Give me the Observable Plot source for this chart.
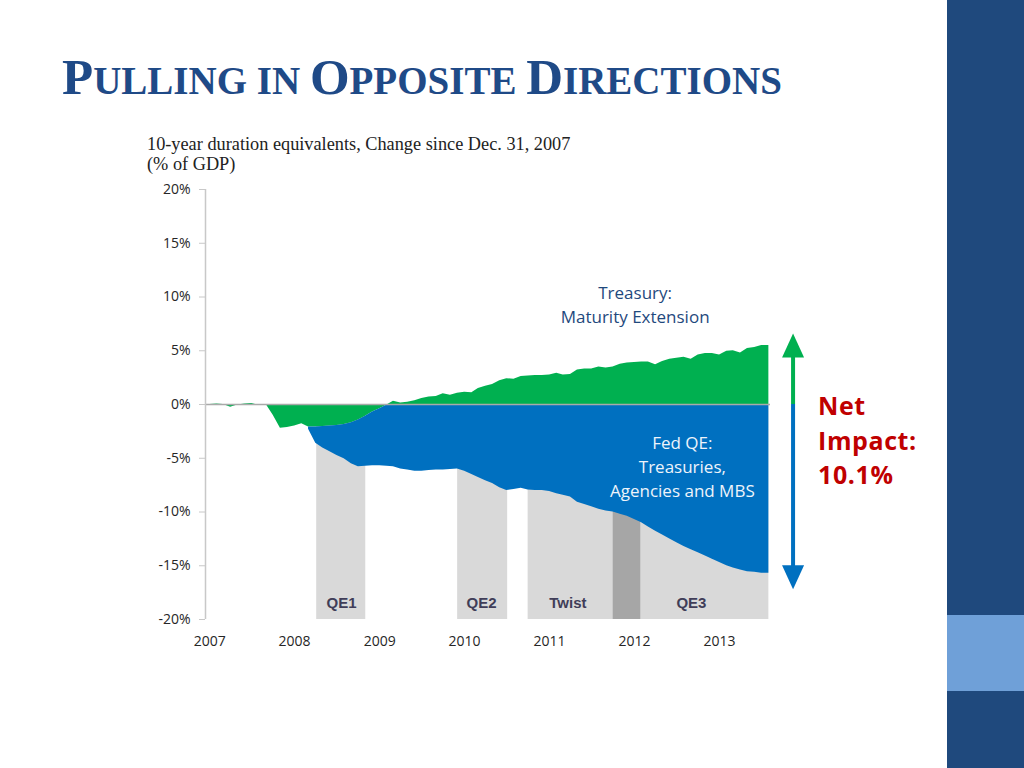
<!DOCTYPE html>
<html><head><meta charset="utf-8">
<script src="https://cdn.jsdelivr.net/npm/d3@7"></script>
<script src="https://cdn.jsdelivr.net/npm/@observablehq/plot@0.6"></script>
<style>
html,body{margin:0;padding:0;background:#fff;width:1024px;height:768px;overflow:hidden;}
#page{position:relative;width:1024px;height:768px;}
#title{position:absolute;left:62px;top:47px;line-height:60px;font-family:"Liberation Serif","Times New Roman",serif;font-weight:bold;color:#1F4A87;font-size:39px;white-space:nowrap;}
#title .b{font-size:51px}
#sub{position:absolute;left:147px;top:134px;font-family:"Liberation Serif",serif;font-size:18.3px;line-height:20px;color:#222;white-space:nowrap}
#chart{position:absolute;left:0;top:0}
#net{position:absolute;left:818px;top:388px;font-family:"Open Sans",sans-serif;font-weight:bold;font-size:25px;line-height:34.5px;letter-spacing:0.6px;color:#C00000}
#side{position:absolute;left:947px;top:0;width:77px;height:768px;background:#1F497D}
#side2{position:absolute;left:947px;top:615px;width:77px;height:76px;background:#6FA0D8}
</style></head>
<body><div id="page">
<div id="chart"></div>
<div id="title"><span class="b">P</span>ULLING IN <span class="b">O</span>PPOSITE <span class="b">D</span>IRECTIONS</div>
<div id="sub">10-year duration equivalents, Change since Dec. 31, 2007<br>(% of GDP)</div>
<div id="net">Net<br>Impact:<br>10.1%</div>
<div id="side"></div><div id="side2"></div>
</div>
<script>
const seriesNames = ["Treasury: Maturity Extension", "Fed QE: Treasuries, Agencies and MBS"];
// monthly, Jan 2007 .. Aug 2013 (% of GDP)
const treasury = [0, 0.05, 0, -0.25, -0.05, 0.05, 0.1, -0.1, 0, -1.0,
  -2.2, -2.15, -2.0, -1.8, -2.1, -2.1, -2.05, -2.0, -1.95, -1.85,
  -1.7, -1.45, -1.1, -0.7, -0.4, -0.05, 0.3, 0.15, 0.2, 0.35,
  0.55, 0.7, 0.75, 1.0, 0.85, 1.05, 1.15, 1.1, 1.5, 1.7,
  1.85, 2.2, 2.4, 2.35, 2.6, 2.65, 2.7, 2.7, 2.75, 2.9,
  2.75, 2.8, 3.2, 3.3, 3.3, 3.5, 3.4, 3.5, 3.75, 3.85,
  3.9, 3.95, 3.95, 3.7, 4.0, 4.2, 4.3, 4.4, 4.2, 4.6,
  4.75, 4.75, 4.6, 4.95, 5.0, 4.8, 5.2, 5.3, 5.5, 5.5];
const fedQE = [null, null, null, null, null, null, null, null, null, null,
  null, null, null, null, -0.2, -1.5, -2.0, -2.4, -2.8, -3.2,
  -3.8, -4.35, -4.65, -5.0, -5.3, -5.7, -5.8, -6.0, -6.1, -6.2,
  -6.2, -6.15, -6.1, -6.1, -6.05, -6.0, -6.2, -6.5, -6.8, -7.1,
  -7.35, -7.75, -8.0, -7.9, -7.8, -7.95, -8.0, -8.0, -8.1, -8.3,
  -8.45, -8.6, -9.1, -9.3, -9.5, -9.75, -9.9, -10.0, -10.2, -10.4,
  -10.7, -11.0, -11.4, -11.8, -12.15, -12.5, -12.85, -13.2, -13.5, -13.8,
  -14.1, -14.4, -14.7, -15.0, -15.2, -15.4, -15.55, -15.6, -15.7, -15.7];
const yTicks = [-20, -15, -10, -5, 0, 5, 10, 15, 20];
const xTickYears = [2007, 2008, 2009, 2010, 2011, 2012, 2013];
const bandNames = ["QE1", "QE2", "Twist", "", "QE3"];
const bandStarts = ["2008-04-05", "2009-12-02", "2010-10-01", "2011-10-01", "2012-01-30"];
const bandEnds = ["2008-11-02", "2010-07-05", "2011-10-01", "2012-01-30", "2013-08-01"];
const bandLabelAt = ["2008-07-21", "2010-03-15", "2011-03-21", "", "2012-09-02"];

const months = d3.utcMonth.range(new Date(Date.UTC(2007, 0, 1)), new Date(Date.UTC(2013, 8, 1)));
const rows = [];
[treasury, fedQE].forEach((vals, i) => {
  months.forEach((m, j) => { if (vals[j] != null) rows.push({date: m, series: seriesNames[i], value: vals[j]}); });
});
const bands = bandNames.map((n, i) => ({name: n, start: new Date(bandStarts[i]), end: new Date(bandEnds[i]), labelAt: bandLabelAt[i] ? new Date(bandLabelAt[i]) : null}));
const xStart = new Date("2006-12-14"), xEnd = new Date("2013-08-08");
const arrowAt = new Date("2013-11-13");
const lastT = treasury[treasury.length - 1], lastF = fedQE[fedQE.length - 1];
const triUp = {draw(c) { c.moveTo(0, -12); c.lineTo(11, 12); c.lineTo(-11, 12); c.closePath(); }};
const triDown = {draw(c) { c.moveTo(0, 12); c.lineTo(11, -12); c.lineTo(-11, -12); c.closePath(); }};
const green = "#00B050", blue = "#0070C0";

const chart = Plot.plot({
  width: 940, height: 680,
  marginLeft: 205, marginRight: 170, marginTop: 189, marginBottom: 61,
  style: {fontFamily: "'Open Sans', sans-serif", fontSize: "13px", color: "#262626", overflow: "visible", background: "transparent"},
  x: {type: "utc", domain: [xStart, xEnd]},
  y: {domain: [-20, 20]},
  color: {domain: seriesNames, range: [green, blue]},
  marks: [
    Plot.rect(bands, {x1: "start", x2: "end", y1: -20, y2: 0, fill: d => d.name ? "#D9D9D9" : "#A6A6A6"}),
    Plot.areaY(rows, {x: "date", y: "value", fill: "series"}),
    Plot.ruleY([0], {stroke: "#A9A9A9", strokeWidth: 1.5}),
    Plot.ruleX([xStart], {y1: -20, y2: 20, stroke: "#C8C8C8", strokeWidth: 1.5}),
    Plot.axisY({ticks: yTicks, tickFormat: d => d + "%", tickSize: 6, tickPadding: 9, stroke: "#C8C8C8", label: null, fill: "#262626", fontSize: 14}),
    Plot.axisX({ticks: xTickYears.map(y => new Date(Date.UTC(y, 0, 1))), tickFormat: d3.utcFormat("%Y"), tickSize: 0, tickPadding: 17, label: null, fill: "#262626", fontSize: 14}),
    Plot.text(bands.filter(b => b.name), {x: "labelAt", y: () => -18.5, text: "name", fontFamily: "'Liberation Sans', Arial, sans-serif", fontWeight: "bold", fontSize: 15, fill: "#403D58"}),
    Plot.text([{t: "Treasury:\nMaturity Extension", d: new Date("2012-01-04"), v: 9.4}], {x: "d", y: "v", text: "t", fontSize: 17, lineHeight: 1.42, fill: "#1F497D"}),
    Plot.text([{t: "Fed QE:\nTreasuries,\nAgencies and MBS", d: new Date("2012-07-25"), v: -5.67}], {x: "d", y: "v", text: "t", fontSize: 17, lineHeight: 1.42, fill: "#EEF4FB"}),
    Plot.ruleX([arrowAt], {y1: 0, y2: lastT, stroke: green, strokeWidth: 4}),
    Plot.ruleX([arrowAt], {y1: 0, y2: lastF, stroke: blue, strokeWidth: 4}),
    Plot.dot([lastT], {x: () => arrowAt, y: d => d, symbol: triUp, fill: green, stroke: null}),
    Plot.dot([lastF], {x: () => arrowAt, y: d => d, dy: 4, symbol: triDown, fill: blue, stroke: null})
  ]
});
document.getElementById("chart").append(chart);
</script>
</body></html>
